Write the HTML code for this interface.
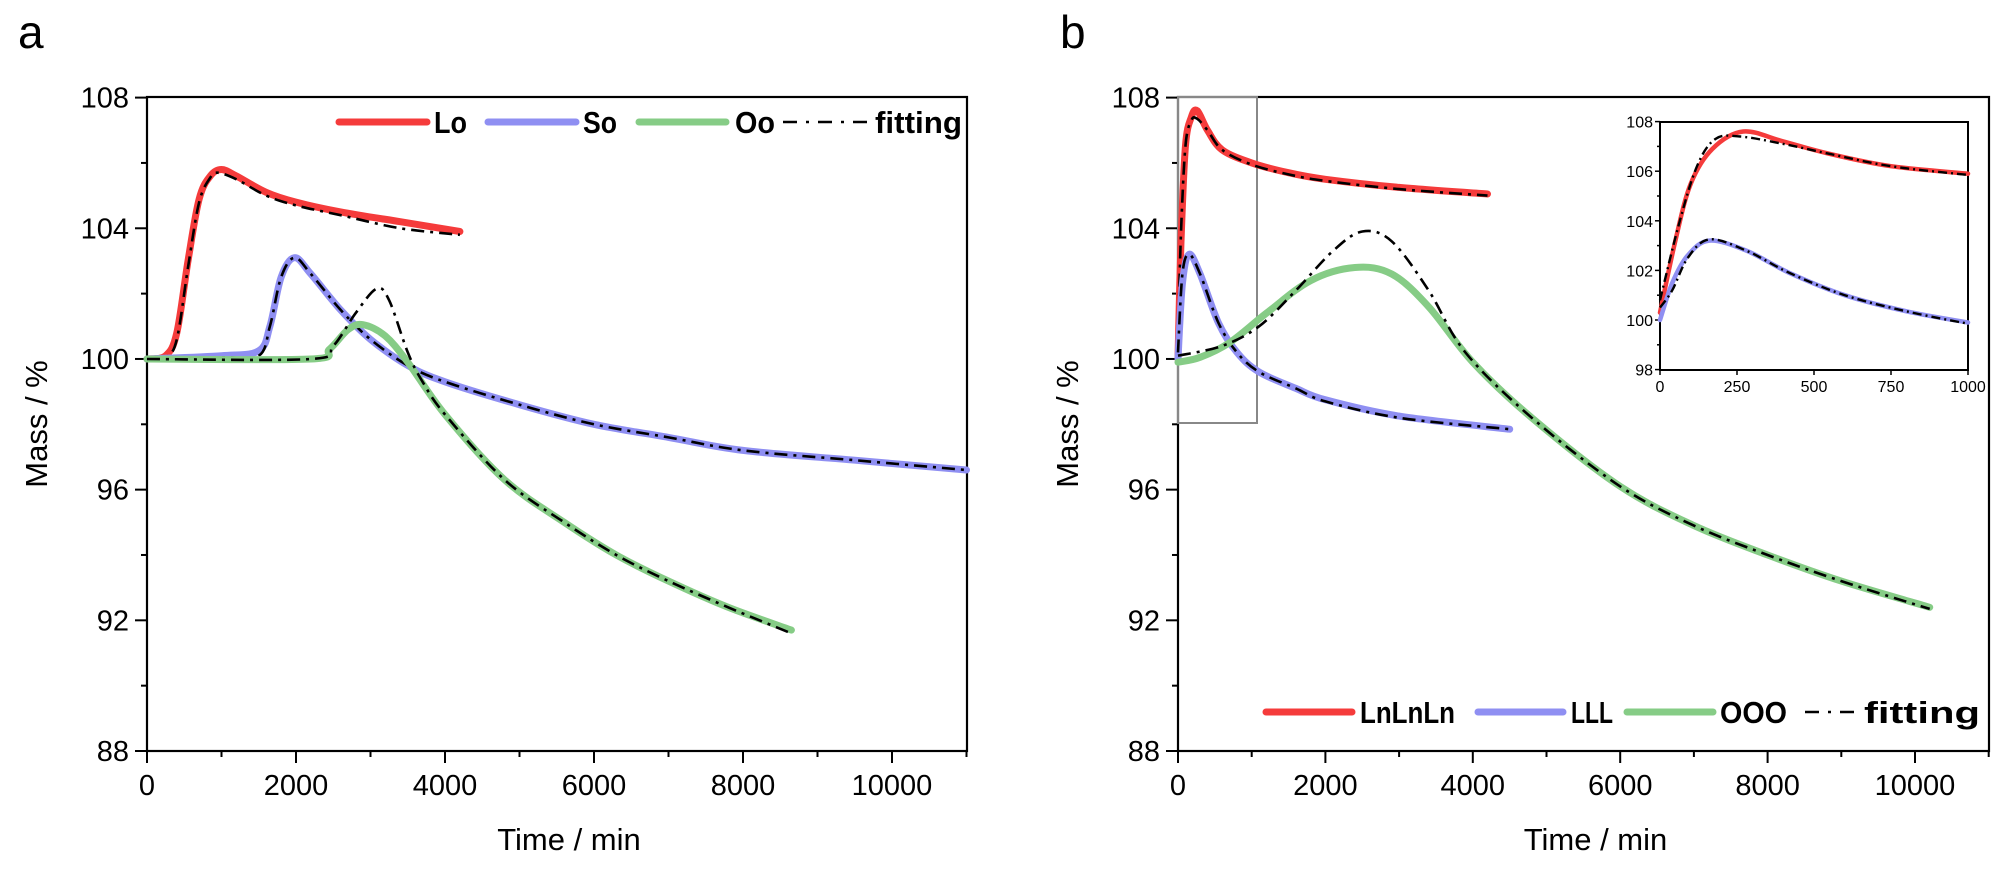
<!DOCTYPE html>
<html><head><meta charset="utf-8"><style>
html,body{margin:0;padding:0;background:#fff;}
svg{display:block;font-family:"Liberation Sans",sans-serif;}
</style></head><body>
<svg id="s" width="1996" height="875" viewBox="0 0 1996 875" xmlns="http://www.w3.org/2000/svg">
<text x="18" y="48" font-size="46" fill="#000">a</text>
<text x="1060" y="48" font-size="46" fill="#000">b</text>
<g id="g"></g>
</svg>
<script>
var NS="http://www.w3.org/2000/svg",G=document.getElementById('g');
function el(t,a,txt){var e=document.createElementNS(NS,t);for(var k in a)e.setAttribute(k,a[k]);if(txt!==undefined)e.textContent=txt;G.appendChild(e);return e;}
function cr(pts){var d='M'+pts[0][0].toFixed(1)+','+pts[0][1].toFixed(1);for(var i=0;i<pts.length-1;i++){var p0=pts[i>0?i-1:i],p1=pts[i],p2=pts[i+1],p3=pts[i+2<pts.length?i+2:i+1];var c1=[p1[0]+(p2[0]-p0[0])/6,p1[1]+(p2[1]-p0[1])/6],c2=[p2[0]-(p3[0]-p1[0])/6,p2[1]-(p3[1]-p1[1])/6];d+='C'+c1[0].toFixed(1)+','+c1[1].toFixed(1)+' '+c2[0].toFixed(1)+','+c2[1].toFixed(1)+' '+p2[0].toFixed(1)+','+p2[1].toFixed(1);}return d;}
var RED='#f53b3b',BLUE='#8f8ff2',GREEN='#86cc86';
function series(X,Y,data,col,w){el('path',{d:cr(data.map(function(p){return[X(p[0]),Y(p[1])]})),fill:'none',stroke:col,'stroke-width':w,'stroke-linecap':'round','stroke-linejoin':'round'});}
function fit(X,Y,data,w,da){el('path',{d:cr(data.map(function(p){return[X(p[0]),Y(p[1])]})),fill:'none',stroke:'#000','stroke-width':w||2.6,'stroke-dasharray':da||'13 6 3 6'});}
function axes(x0,x1,Xf,Yf,xt,xm,label){
 el('rect',{x:x0,y:97,width:x1-x0,height:654,fill:'none',stroke:'#000','stroke-width':2.2});
 [88,92,96,100,104,108].forEach(function(v){var y=Yf(v);el('line',{x1:x0-12,y1:y,x2:x0,y2:y,stroke:'#000','stroke-width':2});el('text',{x:x0-18,y:y+10,'font-size':29,'text-anchor':'end'},String(v));});
 [90,94,98,102,106].forEach(function(v){var y=Yf(v);el('line',{x1:x0-6,y1:y,x2:x0,y2:y,stroke:'#000','stroke-width':2});});
 for(var t=0;t<=10000;t+=2000){var x=Xf(t);el('line',{x1:x,y1:751,x2:x,y2:763,stroke:'#000','stroke-width':2});el('text',{x:x,y:795,'font-size':29,'text-anchor':'middle'},String(t));}
 for(var t=1000;t<=11000;t+=2000){var x=Xf(t);el('line',{x1:x,y1:751,x2:x,y2:757,stroke:'#000','stroke-width':2});}
 el('text',{x:(x0+x1)/2+12,y:850,'font-size':31,'text-anchor':'middle'},'Time / min');
 el('text',{x:0,y:0,'font-size':31,'text-anchor':'middle',transform:'translate('+(x0-100)+',424) rotate(-90)'},'Mass / %');
}
function legend(y,items){items.forEach(function(it){
 if(it.c)el('line',{x1:it.l0,y1:y,x2:it.l1,y2:y,stroke:it.c,'stroke-width':7,'stroke-linecap':'round'});
 else el('line',{x1:it.l0,y1:y,x2:it.l1,y2:y,stroke:'#000','stroke-width':2.6,'stroke-dasharray':'14 9 3 9'});
 el('text',{x:it.t0,y:y+11,'font-size':31,'font-weight':'bold',textLength:it.t1-it.t0,lengthAdjust:'spacingAndGlyphs'},it.s);});}
// Panel a
var Xa=function(t){return 147+t*0.0745},Y=function(m){return 751-(m-88)*32.67};
axes(147,967,Xa,Y);
series(Xa,Y,[[0,100],[250,100.1],[400,100.8],[550,103],[700,104.9],[850,105.6],[1000,105.8],[1200,105.6],[1600,105.1],[2000,104.8],[2600,104.5],[3400,104.2],[4200,103.9]],RED,7);
fit(Xa,Y,[[0,100],[250,100.05],[400,100.6],[550,102.8],[700,104.8],[850,105.55],[950,105.7],[1200,105.5],[1600,105],[2000,104.7],[2600,104.4],[3400,104.0],[4200,103.8]]);
series(Xa,Y,[[0,100],[1000,100.1],[1500,100.25],[1650,101],[1800,102.5],[1980,103.1],[2200,102.6],[2600,101.5],[3000,100.6],[3500,99.8],[4000,99.3],[5000,98.6],[6000,98],[7000,97.6],[8000,97.2],[9500,96.9],[11000,96.6]],BLUE,7);
fit(Xa,Y,[[0,100.02],[1000,100.05],[1500,100.1],[1650,101],[1800,102.5],[1980,103.1],[2200,102.6],[2600,101.5],[3000,100.6],[3500,99.8],[4000,99.3],[5000,98.6],[6000,98],[7000,97.6],[8000,97.2],[9500,96.9],[11000,96.6]]);
series(Xa,Y,[[0,100],[2200,100],[2450,100.3],[2700,100.9],[2900,101.05],[3200,100.7],[3500,99.9],[4000,98.3],[4800,96.3],[5600,95],[6300,94],[7000,93.2],[7800,92.4],[8650,91.7]],GREEN,7);
fit(Xa,Y,[[0,100],[2200,100],[2500,100.4],[2800,101.4],[3080,102.15],[3250,101.8],[3500,100.2],[3700,99.3],[4000,98.3],[4800,96.3],[5600,95],[6300,94],[7000,93.2],[7800,92.4],[8650,91.6]]);
legend(122,[{c:RED,l0:339,l1:427,t0:434,t1:467,s:'Lo'},{c:BLUE,l0:488,l1:576,t0:583,t1:617,s:'So'},{c:GREEN,l0:639,l1:726,t0:735,t1:775,s:'Oo'},{l0:783,l1:869,t0:875,t1:962,s:'fitting'}]);
// Panel b
var Xb=function(t){return 1178+t*0.0737};
axes(1178,1989,Xb,Y);
el('rect',{x:1178,y:97,width:79,height:326,fill:'none',stroke:'#888','stroke-width':2});
series(Xb,Y,[[0,100],[40,103.5],[100,106.5],[180,107.4],[260,107.6],[400,107],[600,106.4],[1000,106],[1500,105.7],[2000,105.5],[3000,105.25],[4200,105.05]],RED,7);
fit(Xb,Y,[[0,100.5],[40,103.8],[100,106.5],[180,107.3],[260,107.35],[400,107],[600,106.4],[1000,105.95],[1500,105.65],[2000,105.45],[3000,105.2],[4200,105.0]]);
series(Xb,Y,[[0,100],[60,102.3],[150,103.2],[300,102.6],[550,101.1],[800,100.2],[1100,99.6],[1600,99.1],[2000,98.75],[3000,98.25],[4500,97.85]],BLUE,7);
fit(Xb,Y,[[0,100.2],[60,102.6],[150,103.2],[300,102.6],[550,101.1],[800,100.2],[1100,99.6],[1600,99.1],[2000,98.7],[3000,98.2],[4500,97.85]]);
series(Xb,Y,[[0,99.9],[300,100.05],[700,100.5],[1200,101.4],[1800,102.4],[2400,102.8],[2900,102.6],[3400,101.6],[4000,99.9],[4800,98.2],[6000,96.1],[7000,94.9],[8000,94],[9000,93.2],[10200,92.4]],GREEN,7);
fit(Xb,Y,[[0,100.1],[600,100.4],[1100,101],[1600,102.1],[2100,103.3],[2500,103.9],[2900,103.6],[3400,102.1],[3900,100.2],[4800,98.2],[6000,96.1],[7000,94.9],[8000,94],[9000,93.2],[10200,92.35]]);
legend(712,[{c:RED,l0:1266,l1:1352,t0:1360,t1:1455,s:'LnLnLn'},{c:BLUE,l0:1478,l1:1563,t0:1571,t1:1613,s:'LLL'},{c:GREEN,l0:1627,l1:1713,t0:1720,t1:1787,s:'OOO'},{l0:1805,l1:1860,t0:1864,t1:1980,s:'fitting'}]);
// inset
var Xi=function(t){return 1660+t*0.308},Yi=function(m){return 320-(m-100)*24.8};
el('rect',{x:1660,y:122,width:308,height:248,fill:'#fff',stroke:'#000','stroke-width':2});
[98,100,102,104,106,108].forEach(function(v){var y=Yi(v);el('line',{x1:1655,y1:y,x2:1660,y2:y,stroke:'#000','stroke-width':1.5});el('text',{x:1653,y:y+6,'font-size':16,'text-anchor':'end'},String(v));});
[99,101,103,105,107].forEach(function(v){var y=Yi(v);el('line',{x1:1657,y1:y,x2:1660,y2:y,stroke:'#000','stroke-width':1.5});});
[0,250,500,750,1000].forEach(function(t){var x=Xi(t);el('line',{x1:x,y1:370,x2:x,y2:375,stroke:'#000','stroke-width':1.5});el('text',{x:x,y:392,'font-size':16,'text-anchor':'middle'},String(t));});
series(Xi,Yi,[[0,100.3],[50,103.2],[100,105.5],[170,106.9],[270,107.6],[400,107.2],[550,106.7],[750,106.2],[1000,105.9]],RED,4.5);
fit(Xi,Yi,[[0,100.8],[60,103.8],[120,106.2],[180,107.3],[260,107.4],[400,107.1],[550,106.7],[750,106.2],[1000,105.85]],2.4,'9 4 2 4');
series(Xi,Yi,[[0,100],[40,101.5],[90,102.6],[160,103.2],[280,102.8],[420,101.9],[600,101],[800,100.35],[1000,99.9]],BLUE,4.5);
fit(Xi,Yi,[[0,100.5],[40,101.2],[90,102.5],[160,103.25],[280,102.8],[420,101.9],[600,101],[800,100.35],[1000,99.85]],2.4,'9 4 2 4');
</script>
</body></html>
